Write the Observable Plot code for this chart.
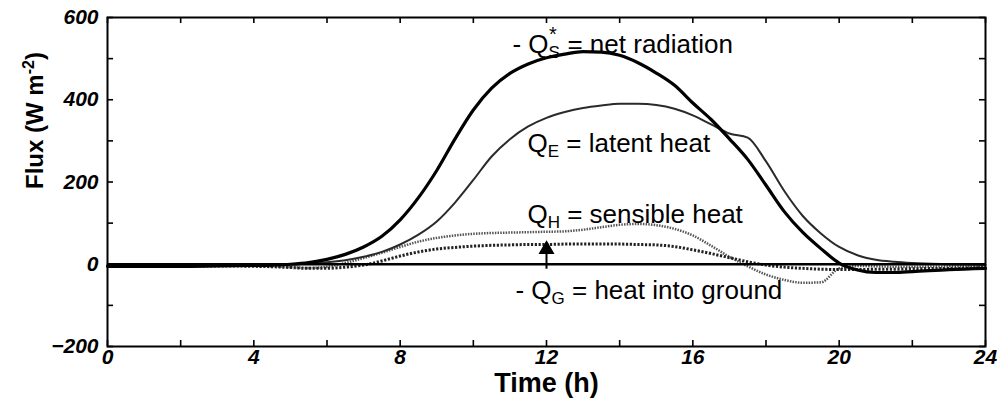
<!DOCTYPE html>
<html><head><meta charset="utf-8">
<script src="https://cdn.jsdelivr.net/npm/d3@7"></script>
<script src="https://cdn.jsdelivr.net/npm/@observablehq/plot@0.6"></script>
<style>body{margin:0;background:#fff} svg{display:block}</style>
</head><body><div id="chart"></div>
<script>
// ---- data ----
const hours = [0,1,2,3,4,4.5,5,5.5,6,6.5,7,7.5,8,8.5,9,9.5,10,10.5,11,11.5,12,12.5,13,13.5,14,14.5,15,15.5,16,16.5,17,17.5,18,18.5,19,19.5,20,20.5,21,21.5,22,23,24];
const netRadiation = [-5,-5,-5,-4,-3,-2,0,4,12,24,42,68,108,162,228,305,375,428,464,487,502,511,517,516,508,490,465,435,392,352,305,255,192,128,78,38,3,-14,-20,-20,-18,-13,-10];
const latentHeat   = [0,0,0,0,0,0,0,2,5,10,18,30,48,72,104,150,205,262,304,335,356,370,380,386,390,390,387,378,362,340,318,308,250,178,118,75,42,22,11,6,3,0,-2];
const sensibleHeat = [-3,-3,-3,-3,-4,-5,-7,-9,-6,3,15,28,42,55,64,70,74,76,77,78,79,80,84,90,96,98,95,86,70,45,18,-5,-25,-38,-45,-44,-10,-4,-5,-6,-6,-5,-4];
const groundHeat   = [-4,-4,-4,-4,-5,-6,-8,-10,-10,-7,-2,8,20,30,37,41,44,46,47,48,48,49,49,49,49,48,47,43,35,26,16,6,-2,-7,-10,-12,-13,-13,-12,-12,-11,-10,-8];

const xTickValues = [0,2,4,6,8,10,12,14,16,18,20,22,24];
const xLabelValues = [0,4,8,12,16,20,24];
const yTickValues = [-200,-100,0,100,200,300,400,500,600];
const yLabelValues = [-200,0,200,400,600];

const labelPrefix = ["- ", "", "", "- "];
const labelSub = ["S", "E", "H", "G"];
const labelSup = ["*", "", "", ""];
const labelRest = [" = net radiation", " = latent heat", " = sensible heat", " = heat into ground"];
const labelHour = [11.07, 11.48, 11.48, 11.15];
const labelFlux = [534, 294, 121, -64];

const arrowHour = [12];
const arrowFrom = [-12];
const arrowTo = [36];

const xTitle = "Time (h)";
const yTitle = "Flux (W m";
const yTitleSup = "-2";
const yTitleEnd = ")";

// ---- tables built from the arrays ----
const rows = hours.map((h, i) => ({h, net: netRadiation[i], latent: latentHeat[i], sensible: sensibleHeat[i], ground: groundHeat[i]}));
const labels = labelSub.map((s, i) => ({h: labelHour[i], v: labelFlux[i], text: labelPrefix[i] + "Q" + s + labelRest[i]}));
const arrows = arrowHour.map((h, i) => ({h, from: arrowFrom[i], to: arrowTo[i]}));

const font = "'Liberation Sans', Arial, Helvetica, sans-serif";
const W = 998, H = 402, mL = 107, mR = 13, mT = 17, mB = 56;
const fw = W - mL - mR, fh = H - mT - mB, tick = 6;

const chart = Plot.plot({
  width: W, height: H,
  marginLeft: mL, marginRight: mR, marginTop: mT, marginBottom: mB,
  x: {domain: [0, 24]},
  y: {domain: [-200, 600]},
  style: {fontFamily: font, background: "#fff", color: "#000", overflow: "visible"},
  marks: [
    // inward tick marks on all four sides
    Plot.tickX(xTickValues, {x: d => d, insetTop: fh - tick, stroke: "#000", strokeWidth: 1.6}),
    Plot.tickX(xTickValues, {x: d => d, insetBottom: fh - tick, stroke: "#000", strokeWidth: 1.6}),
    Plot.tickY(yTickValues, {y: d => d, insetRight: fw - tick, stroke: "#000", strokeWidth: 1.6}),
    Plot.tickY(yTickValues, {y: d => d, insetLeft: fw - tick, stroke: "#000", strokeWidth: 1.6}),
    // tick labels
    Plot.axisX(xLabelValues, {anchor: "bottom", tickSize: 0, tickPadding: 3, label: null, fontSize: 21, fontStyle: "italic", fontWeight: "bold"}),
    Plot.axisY(yLabelValues, {anchor: "left", tickSize: 0, tickPadding: 9, label: null, fontSize: 21, fontStyle: "italic", fontWeight: "bold"}),
    // series
    Plot.line(rows, {x: "h", y: "sensible", curve: "monotone-x", stroke: "#555", strokeWidth: 2.5, strokeDasharray: "1.5,1.2", strokeLinecap: "butt"}),
    Plot.line(rows, {x: "h", y: "ground", curve: "monotone-x", stroke: "#222", strokeWidth: 3, strokeDasharray: "2.2,1.6", strokeLinecap: "butt"}),
    Plot.line(rows, {x: "h", y: "latent", curve: "monotone-x", stroke: "#2a2a2a", strokeWidth: 2}),
    Plot.line(rows, {x: "h", y: "net", curve: "monotone-x", stroke: "#000", strokeWidth: 3.2}),
    Plot.ruleY([0], {stroke: "#000", strokeWidth: 2.5}),
    // arrow pointing to the ground-heat curve
    Plot.ruleX(arrows, {x: "h", y1: "from", y2: "to", stroke: "#000", strokeWidth: 2}),
    Plot.dot(arrows, {x: "h", y: "to", symbol: "triangle", r: 5, fill: "#000", stroke: "#000"}),
    // curve labels
    Plot.text(labels, {x: "h", y: "v", text: "text", textAnchor: "start", lineAnchor: "middle", fontSize: 26, fill: "#000", className: "anno"}),
    // axis titles
    Plot.text([xTitle], {frameAnchor: "bottom", dy: 37, fontSize: 27, fontWeight: "bold", fill: "#000", lineAnchor: "middle"}),
    Plot.text([yTitle + yTitleSup + yTitleEnd], {frameAnchor: "left", dx: -72, dy: 7, rotate: -90, fontSize: 24, fontWeight: "bold", fill: "#000", lineAnchor: "middle", className: "ylab"}),
    Plot.frame({stroke: "#000", strokeWidth: 2})
  ]
});

// rich text: subscripts / superscripts as real tspans
const NS = "http://www.w3.org/2000/svg";
function addSpan(t, txt, attrs) {
  const s = document.createElementNS(NS, "tspan");
  s.textContent = txt;
  for (const k in attrs) s.setAttribute(k, attrs[k]);
  t.appendChild(s);
}
chart.querySelectorAll("g.anno text").forEach((t, i) => {
  t.textContent = "";
  addSpan(t, labelPrefix[i] + "Q", {});
  addSpan(t, labelSub[i], {dy: 5, "font-size": 17});
  if (labelSup[i]) {
    addSpan(t, labelSup[i], {dx: -11, dy: -17, "font-size": 20});
    addSpan(t, labelRest[i], {dx: 3.5, dy: 12});
  } else {
    addSpan(t, labelRest[i], {dy: -5});
  }
});
chart.querySelectorAll("g.ylab text").forEach(t => {
  t.textContent = "";
  addSpan(t, yTitle, {});
  addSpan(t, yTitleSup, {dy: -9, "font-size": 16});
  addSpan(t, yTitleEnd, {dy: 9});
});

document.getElementById("chart").appendChild(chart);
</script>
</body></html>
